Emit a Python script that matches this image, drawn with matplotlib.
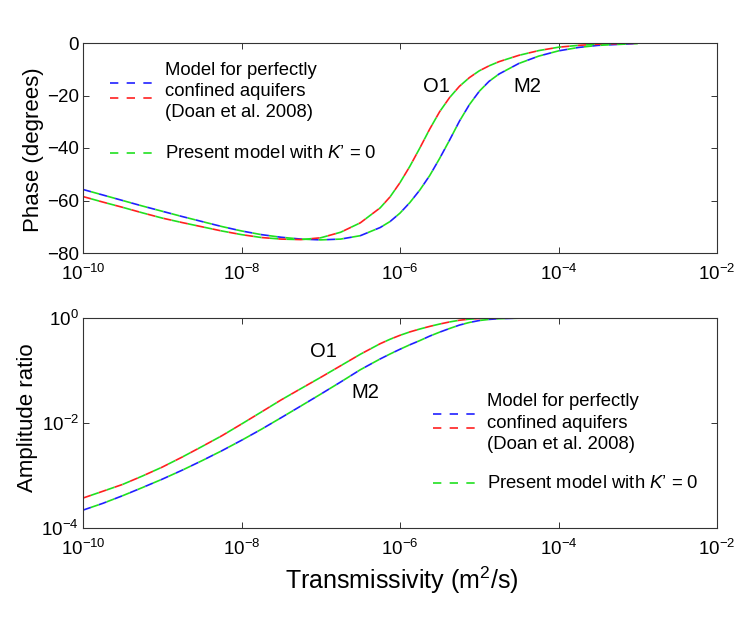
import matplotlib
matplotlib.use("Agg")
import matplotlib.pyplot as plt
from matplotlib.ticker import FixedLocator, NullLocator

plt.rcParams['font.family'] = ['Liberation Sans', 'DejaVu Sans']
plt.rcParams['mathtext.fontset'] = 'custom'
plt.rcParams['mathtext.rm'] = 'Liberation Sans'
plt.rcParams['mathtext.it'] = 'Liberation Sans:italic'
plt.rcParams['mathtext.default'] = 'regular'
plt.rcParams['lines.scale_dashes'] = False

# ---------------- data ----------------
T = [1e-10, 1.78e-10, 3.16e-10, 5.62e-10, 1e-9, 1.78e-9, 3.16e-9, 5.62e-9,
     1e-8, 1.78e-8, 3.16e-8, 5.62e-8, 1e-7, 1.78e-7, 3.16e-7, 5.62e-7,
     7.50e-7, 1e-6, 1.33e-6, 1.78e-6, 2.37e-6, 3.16e-6, 4.22e-6, 5.62e-6,
     7.50e-6, 1e-5, 1.33e-5, 1.78e-5, 3.16e-5, 5.62e-5, 1e-4, 1.78e-4,
     3.16e-4, 1e-3]

phase_O1 = [-58.5, -60.6, -62.6, -64.7, -66.7, -68.4, -70.0, -71.6, -73.0,
            -74.1, -74.7, -74.9, -74.2, -72.1, -68.5, -62.8, -58.6, -53.2,
            -47.0, -40.0, -32.8, -26.2, -20.8, -16.5, -13.2, -10.6, -8.7,
            -7.1, -4.7, -2.9, -1.6, -0.9, -0.45, -0.1]
phase_M2 = [-55.8, -57.9, -60.0, -62.1, -64.1, -66.1, -68.0, -69.9, -71.6,
            -73.0, -74.0, -74.7, -75.0, -74.7, -73.4, -70.3, -68.0, -64.8,
            -60.8, -56.0, -50.5, -44.0, -37.0, -29.8, -23.5, -18.4, -14.6,
            -11.8, -7.8, -5.0, -3.0, -1.7, -0.9, -0.2]

amp_O1 = [3.72e-4, 5.01e-4, 6.76e-4, 9.77e-4, 1.445e-3, 2.24e-3, 3.55e-3,
          5.69e-3, 9.55e-3, 1.62e-2, 2.75e-2, 4.52e-2, 7.41e-2, 0.123, 0.204,
          0.324, 0.394, 0.468, 0.543, 0.617, 0.692, 0.767, 0.841, 0.906,
          0.951, 0.977, 0.987, 0.993, 0.998, 1.0, 1.0, 1.0, 1.0, 1.0]
amp_M2 = [2.19e-4, 2.95e-4, 4.12e-4, 5.89e-4, 8.51e-4, 1.26e-3, 1.91e-3,
          2.95e-3, 4.68e-3, 7.59e-3, 1.26e-2, 2.11e-2, 3.55e-2, 6.03e-2,
          0.1035, 0.166, 0.2065, 0.254, 0.309, 0.3715, 0.452, 0.537, 0.631,
          0.733, 0.822, 0.895, 0.940, 0.970, 0.993, 0.998, 1.0, 1.0, 1.0, 1.0]

xticks = [1e-10, 1e-8, 1e-6, 1e-4, 1e-2]
phase_ticks = [0, -20, -40, -60, -80]
amp_ticks = [1e-4, 1e-2, 1e0]

legend_doan = ["Model for perfectly", "confined aquifers", "(Doan et al. 2008)"]
legend_present = "Present model with $\\mathit{K}$\u2019 = 0"

# ---------------- styling ----------------
BLUE = '#2020ff'
RED = '#ff2020'
GREEN = '#20e020'
LW = 1.2
DASH = (6, 6)

fig = plt.figure(figsize=(7.37, 6.24), dpi=100)
ax1 = fig.add_axes([83/737, 1-253/624, 634/737, 210/624])
ax2 = fig.add_axes([83/737, 1-528/624, 634/737, 210/624])

for ax, yO1, yM2 in [(ax1, phase_O1, phase_M2), (ax2, amp_O1, amp_M2)]:
    ax.plot(T, yM2, color=BLUE, lw=LW, dashes=DASH)
    ax.plot(T, yO1, color=RED, lw=LW, dashes=DASH)
    for yy in (yM2, yO1):
        ax.plot(T, yy, color=GREEN, lw=LW, linestyle=(DASH[0], DASH))

for ax in (ax1, ax2):
    ax.set_xscale('log')
    ax.set_xlim(1e-10, 1e-2)
    ax.xaxis.set_major_locator(FixedLocator(xticks))
    ax.xaxis.set_minor_locator(NullLocator())
    ax.tick_params(which='both', direction='in', top=True, right=True,
                   length=4, width=0.7, color='#333333', labelsize=13.5)
    ax.tick_params(axis='x', pad=7.5)
    ax.tick_params(axis='y', pad=3)
    for s in ax.spines.values():
        s.set_linewidth(0.8)
        s.set_color('#333333')

ax1.set_ylim(-80, 0)
ax1.set_yticks(phase_ticks)
ax2.set_yscale('log')
ax2.set_ylim(1e-4, 1e0)
ax2.yaxis.set_major_locator(FixedLocator(amp_ticks))
ax2.yaxis.set_minor_locator(NullLocator())

ax1.set_ylabel('Phase (degrees)', fontsize=16, va='center')
ax1.yaxis.set_label_coords(-0.0773, 0.49)
ax2.set_ylabel('Amplitude ratio', fontsize=16, va='center')
ax2.yaxis.set_label_coords(-0.0883, 0.526)
ax2.set_xlabel('Transmissivity (m$^2$/s)', fontsize=18, va='center')
ax2.xaxis.set_label_coords(0.503, -0.248)

# curve labels
ax1.text(2.9e-6, -18.5, 'O1', fontsize=14.5, ha='center', va='baseline')
ax1.text(4.06e-5, -18.5, 'M2', fontsize=14.5, ha='center', va='baseline')
ax2.text(1.08e-7, 0.183, 'O1', fontsize=14.5, ha='center', va='baseline')
ax2.text(3.69e-7, 0.0295, 'M2', fontsize=14.5, ha='center', va='baseline')


def legend(ax, lx0, lx1, tx, ly_blue, ly_red, ly_green, ty_lines, ty_present):
    for col, yy in ((BLUE, ly_blue), (RED, ly_red), (GREEN, ly_green)):
        ax.plot([lx0, lx1], [yy, yy], color=col, lw=LW, dashes=DASH,
                transform=ax.transAxes, clip_on=False)
    for txt, yy in zip(legend_doan, ty_lines):
        ax.text(tx, yy, txt, transform=ax.transAxes, fontsize=13.3,
                ha='left', va='baseline')
    ax.text(tx, ty_present, legend_present, transform=ax.transAxes,
            fontsize=13.3, ha='left', va='baseline')


legend(ax1, 0.0426, 0.110, 0.129, 0.811, 0.740, 0.476,
       [0.848, 0.748, 0.646], 0.454)
legend(ax2, 0.552, 0.618, 0.638, 0.541, 0.475, 0.213,
       [0.581, 0.478, 0.375], 0.189)

fig.savefig('out.png', dpi=100)
